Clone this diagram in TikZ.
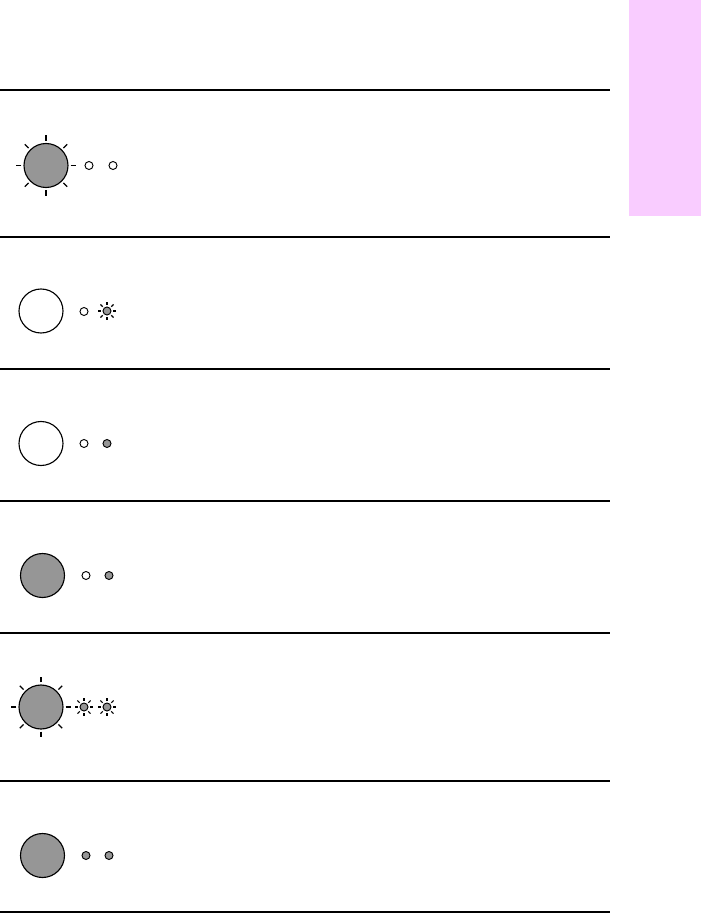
\documentclass[tikz,border=0pt]{standalone}
\definecolor{ledgraycol}{RGB}{150,150,150}
\definecolor{tabpink}{RGB}{249,204,255}
\begin{document}
\begin{tikzpicture}[x=0.75pt,y=-0.75pt,
  ledgray/.style={fill=ledgraycol},
  bigled/.style={circle,draw=black,line width=0.85pt,minimum size=33pt,inner sep=0pt},
  smallled/.style={circle,draw=black,line width=0.7pt,minimum size=6pt,inner sep=0pt},
  sepline/.style={line width=0.8pt},
  bigray/.style={line width=1pt},
  smallray/.style={line width=0.8pt}]
\useasboundingbox (0,0) rectangle (701,913);
\fill[tabpink] (629,0) rectangle (701,216);
% separators
\foreach \yy/\n in {90/l0,237/l1,369/l2,501/l3,633/l4,781/l5,912/l6}{
  \coordinate (\n a) at (0,\yy);
  \coordinate (\n b) at (610,\yy);
  \draw[sepline] (\n a) -- (\n b);
}
% row 1
\node[bigled,ledgray] (b1) at (46,165.5) {};
\node[smallled,fill=white] (s1a) at (89,165.5) {};
\node[smallled,fill=white] (s1b) at (113,165.5) {};
% row 2
\node[bigled,fill=white] (b2) at (41,311) {};
\node[smallled,fill=white] (s2a) at (84,311.5) {};
\node[smallled,ledgray] (s2b) at (107,311) {};
% row 3
\node[bigled,fill=white] (b3) at (41,443.5) {};
\node[smallled,fill=white] (s3a) at (84,443.5) {};
\node[smallled,ledgray] (s3b) at (107,443.5) {};
% row 4
\node[bigled,ledgray] (b4) at (42.5,575.5) {};
\node[smallled,fill=white] (s4a) at (86,575.5) {};
\node[smallled,ledgray] (s4b) at (109,575.5) {};
% row 5
\node[bigled,ledgray] (b5) at (41,707) {};
\node[smallled,ledgray] (s5a) at (84,707) {};
\node[smallled,ledgray] (s5b) at (107,707) {};
% row 6
\node[bigled,ledgray] (b6) at (42.5,855.5) {};
\node[smallled,ledgray] (s6a) at (86,855.5) {};
\node[smallled,ledgray] (s6b) at (109,855.5) {};
% rays of big blinking lights
\foreach \c in {b1,b5}{
  \foreach \a in {0,45,...,315}{
    \draw[bigray,shift={(\c.center)}] (\a:18.5pt) -- (\a:22.5pt);
  }
}
% rays of small blinking lights
\foreach \c in {s2b,s5a,s5b}{
  \foreach \a in {0,45,...,315}{
    \draw[smallray,shift={(\c.center)}] (\a:4.6pt) -- (\a:7pt);
  }
}
\end{tikzpicture}
\end{document}
